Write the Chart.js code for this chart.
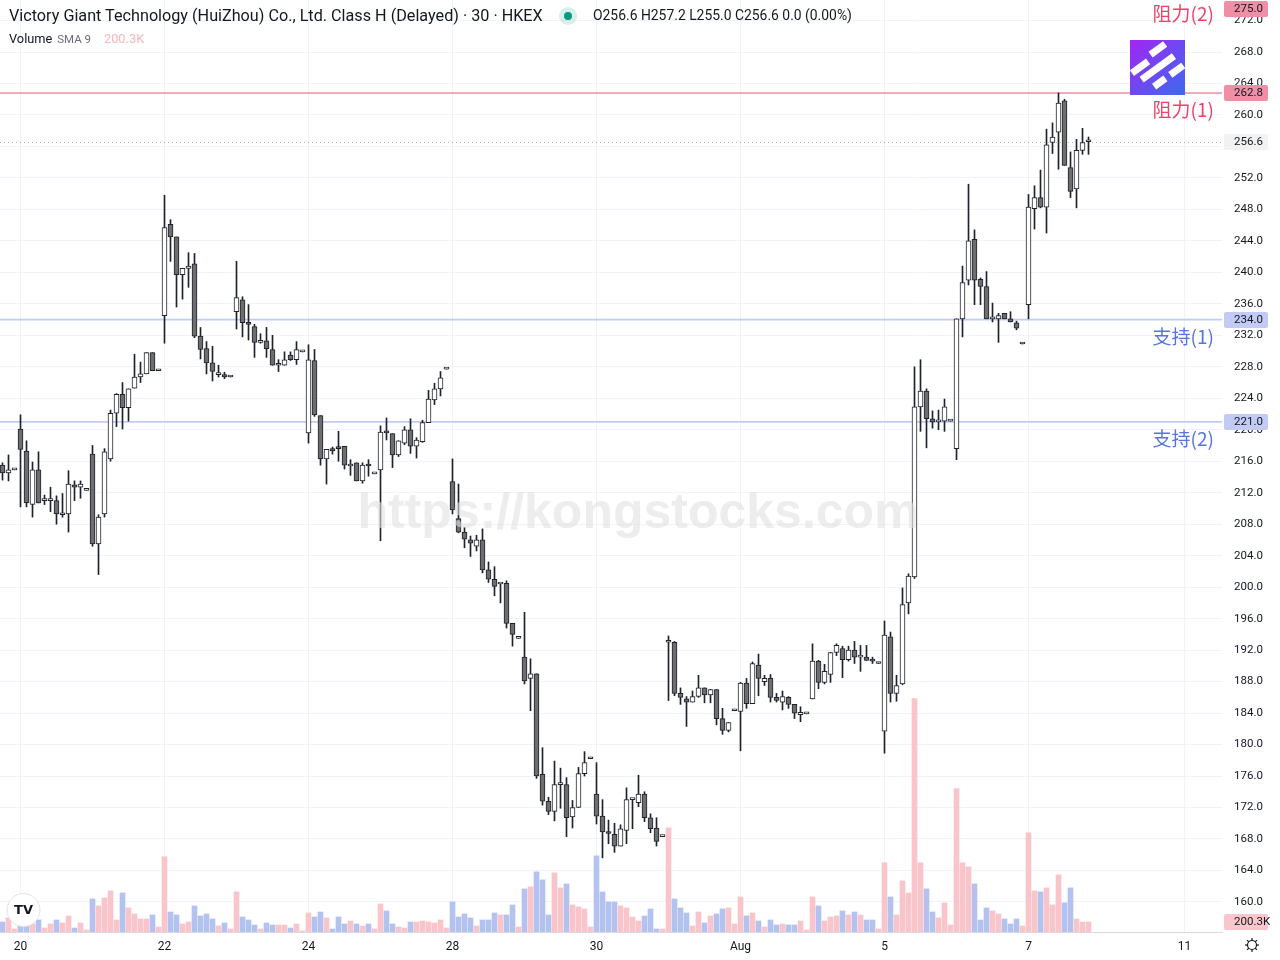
<!DOCTYPE html>
<html lang="en">
<head>
<meta charset="utf-8">
<title>Victory Giant Technology (HuiZhou) 30m</title>
<script src="https://cdn.jsdelivr.net/npm/chart.js@4.4.1/dist/chart.umd.min.js"></script>
<style>
  html, body { margin: 0; padding: 0; background: #fff; }
  body { position: relative; width: 1280px; height: 960px; overflow: hidden;
         font-family: Roboto, "Noto Sans", sans-serif; color: #131722; }
  #chart { position: absolute; left: 0; top: 0; }
  .legend { position: absolute; left: 9px; white-space: nowrap; }
  #title { top: 6px; font-size: 16.2px; }
  #dot { position: absolute; left: 559px; top: 7px; width: 18px; height: 18px; border-radius: 50%; background: rgba(8,153,129,0.15); }
  #dot::after { content: ''; position: absolute; left: 5px; top: 5px; width: 8px; height: 8px; border-radius: 50%; background: #089981; }
  #ohlc { position: absolute; left: 593px; top: 7px; font-size: 13.9px; white-space: nowrap; }
  #vol { top: 31px; font-size: 12.8px; }
  #vol .sma { color: #6a6d78; font-size: 11.5px; margin-left: 2px; }
  #vol .val { color: #f7b5bd; margin-left: 13px; }
  #watermark { position: absolute; left: 0; width: 1276px; top: 486px; text-align: center;
               font: bold 50px "Liberation Sans", Arial, sans-serif; line-height: 50px;
               color: rgba(225,225,225,0.6); pointer-events: none; }
</style>
</head>
<body>
<canvas id="chart" width="1280" height="960"></canvas>
<div id="title" class="legend">Victory Giant Technology (HuiZhou) Co., Ltd. Class H (Delayed) · 30 · HKEX</div>
<div id="dot"></div>
<div id="ohlc">O256.6 H257.2 L255.0 C256.6 0.0 (0.00%)</div>
<div id="vol" class="legend">Volume<span class="sma"> SMA 9</span><span class="val">200.3K</span></div>
<div id="watermark">https://kongstocks.com</div>
<script>
// 30 minute bars, last 3 bars of Jul 17 then Jul 20 .. Aug 7 (12 bars a day incl. closing auction)
const opens = [
  215.5, 214.5, 214.9, 220.1, 217.3, 210.5, 214.9, 211.0, 211.0, 211.0, 209.2, 209.3, 213.0, 212.7, 212.3,
  216.9, 205.5, 209.3, 216.3, 222.1, 224.5, 222.8, 225.3, 226.7, 227.1, 229.8, 227.5,
  234.5, 246.1, 244.5, 239.7, 240.5, 241.1, 231.9, 230.3, 228.5, 227.0, 227.0, 226.7,
  235.0, 236.5, 233.6, 233.1, 231.1, 231.3, 230.2, 228.2, 228.2, 229.5, 228.9, 229.9,
  219.6, 228.8, 221.8, 216.3, 217.6, 217.7, 217.9, 215.4, 215.8, 213.5, 215.6, 214.4,
  214.9, 219.7, 219.5, 216.8, 218.3, 220.0, 217.9, 218.5, 220.9, 223.8, 225.2, 227.7,
  213.4, 208.7, 207.0, 206.0, 205.2, 206.0, 202.2, 201.0, 200.4, 200.5, 195.4, 193.5,
  191.1, 188.4, 189.0, 176.2, 172.8, 171.5, 174.9, 174.9, 170.8, 172.0, 176.3, 178.2,
  173.7, 170.9, 168.8, 168.6, 167.1, 169.1, 173.0, 172.6, 173.7, 170.7, 169.4, 168.3,
  193.0, 193.0, 186.5, 185.8, 185.4, 186.1, 187.2, 186.3, 187.0, 183.3, 181.8, 184.3,
  184.2, 187.8, 185.2, 190.1, 188.0, 188.4, 186.0, 185.4, 186.0, 185.1, 183.8, 183.9,
  185.8, 190.6, 187.9, 188.9, 191.7, 192.2, 190.8, 192.0, 191.1, 191.1, 190.7, 190.3,
  181.7, 193.7, 186.5, 187.7, 198.0, 201.3, 222.9, 224.9, 221.4, 221.0, 221.1, 221.1,
  217.6, 234.1, 239.0, 244.2, 239.1, 238.2, 234.1, 234.1, 234.8, 234.1, 233.6, 230.9,
  235.9, 248.1, 249.5, 248.3, 256.5, 257.8, 261.8, 253.3, 250.6, 255.5, 256.6
];
const highs = [
  215.8, 216.8, 214.9, 221.9, 218.6, 215.9, 217.2, 211.7, 212.7, 211.6, 211.9, 214.8, 213.5, 213.5, 212.3,
  218.0, 209.2, 217.6, 222.5, 224.6, 226.0, 225.2, 229.6, 228.6, 229.8, 229.8, 227.5,
  249.8, 246.7, 244.5, 240.5, 242.5, 242.4, 233.0, 231.2, 230.6, 228.2, 227.3, 226.7,
  241.4, 236.9, 235.9, 233.4, 232.2, 233.0, 232.0, 228.9, 229.9, 229.9, 231.2, 229.9,
  230.8, 230.2, 221.8, 217.5, 217.8, 219.8, 217.9, 216.2, 215.8, 215.8, 216.2, 214.4,
  220.5, 221.5, 219.5, 218.6, 220.4, 221.4, 219.0, 221.2, 225.0, 225.9, 227.4, 227.7,
  216.3, 213.1, 207.6, 206.5, 206.6, 207.4, 203.2, 202.6, 200.4, 200.8, 195.4, 193.5,
  196.8, 190.9, 189.0, 179.6, 173.3, 177.9, 177.0, 175.8, 172.9, 177.1, 179.1, 178.2,
  177.7, 173.0, 170.4, 170.0, 169.8, 174.5, 173.1, 176.1, 174.0, 171.2, 170.7, 168.3,
  193.8, 193.1, 187.2, 186.1, 186.8, 188.8, 187.2, 187.0, 187.0, 184.6, 182.8, 184.3,
  187.9, 188.4, 190.5, 191.5, 188.8, 188.9, 186.5, 186.8, 186.1, 185.1, 184.8, 183.9,
  192.8, 190.7, 190.2, 191.7, 192.8, 192.5, 192.5, 193.1, 192.6, 192.6, 191.1, 190.3,
  195.7, 194.3, 188.8, 199.9, 201.7, 228.0, 228.9, 225.2, 222.4, 222.5, 223.9, 221.1,
  234.1, 240.8, 251.2, 245.4, 239.3, 240.1, 236.1, 234.8, 234.8, 235.0, 233.8, 230.9,
  249.9, 251.0, 253.0, 258.2, 259.0, 262.8, 262.0, 255.3, 256.9, 258.3, 257.2
];
const lows = [
  213.6, 213.5, 214.9, 210.2, 210.2, 208.9, 210.7, 210.5, 209.6, 208.0, 208.9, 207.0, 211.0, 211.3, 212.3,
  205.2, 201.6, 208.9, 216.0, 220.4, 220.1, 221.1, 225.3, 226.0, 227.1, 227.5, 227.5,
  231.0, 241.4, 235.6, 236.6, 238.1, 231.7, 229.0, 227.1, 226.2, 226.7, 226.5, 226.7,
  232.8, 231.8, 231.4, 229.2, 231.0, 229.2, 228.2, 227.4, 228.2, 228.8, 228.3, 229.9,
  218.3, 221.7, 215.5, 213.1, 216.9, 216.0, 215.0, 214.2, 213.5, 213.2, 214.1, 214.4,
  205.9, 218.7, 215.2, 216.6, 218.1, 217.0, 216.4, 218.4, 220.9, 223.2, 224.3, 227.7,
  209.3, 206.9, 205.0, 203.9, 204.6, 201.8, 200.6, 198.9, 198.0, 194.8, 192.5, 193.5,
  187.7, 184.3, 175.7, 172.3, 171.1, 170.3, 171.9, 168.3, 169.4, 172.0, 176.0, 178.2,
  169.9, 165.6, 167.4, 166.3, 167.1, 167.4, 169.3, 172.1, 170.2, 168.8, 167.1, 168.3,
  185.6, 186.2, 185.1, 182.3, 185.4, 186.0, 185.3, 185.3, 182.5, 181.3, 181.6, 184.3,
  179.2, 184.6, 185.2, 186.2, 187.5, 185.4, 185.4, 184.4, 184.6, 183.3, 182.9, 183.9,
  185.8, 187.1, 187.7, 187.9, 191.3, 188.5, 190.6, 190.3, 189.3, 190.7, 190.3, 190.3,
  178.9, 185.4, 185.5, 187.6, 196.6, 201.1, 219.8, 217.7, 220.2, 220.0, 219.8, 221.1,
  216.2, 231.8, 238.4, 235.9, 235.9, 234.1, 233.7, 231.1, 234.1, 233.7, 232.7, 230.9,
  234.1, 245.5, 248.2, 245.0, 255.1, 253.1, 253.6, 249.5, 248.2, 255.0, 255.0
];
const closes = [
  214.5, 214.9, 214.9, 217.5, 210.7, 214.9, 210.7, 211.0, 211.0, 209.3, 209.2, 213.1, 212.7, 213.1, 212.3,
  205.5, 208.9, 217.2, 222.1, 224.5, 222.8, 225.2, 226.7, 227.1, 229.8, 227.5, 227.5,
  245.7, 244.5, 239.7, 240.5, 240.8, 231.9, 230.2, 228.5, 227.4, 227.0, 226.7, 226.7,
  236.8, 233.6, 233.4, 231.1, 231.2, 230.3, 228.2, 228.4, 228.9, 228.9, 230.2, 229.9,
  228.9, 221.9, 216.3, 217.5, 217.3, 217.6, 215.5, 215.6, 213.5, 215.5, 215.4, 214.4,
  219.7, 219.6, 216.8, 218.6, 220.0, 217.9, 218.7, 220.9, 223.9, 225.2, 226.6, 227.7,
  209.8, 207.0, 206.1, 205.6, 206.0, 202.2, 201.0, 200.1, 200.4, 195.4, 194.0, 193.5,
  188.1, 189.0, 176.0, 172.8, 171.5, 174.9, 174.9, 170.7, 172.0, 176.3, 177.7, 178.2,
  170.9, 168.9, 168.7, 167.1, 169.3, 173.0, 173.0, 173.7, 170.7, 169.3, 167.7, 168.3,
  193.1, 186.5, 186.0, 185.4, 186.1, 187.2, 186.3, 187.0, 183.3, 181.8, 182.8, 184.3,
  187.8, 185.2, 190.3, 188.4, 188.4, 186.0, 185.6, 186.1, 185.1, 184.0, 184.1, 183.9,
  190.6, 187.9, 189.3, 191.7, 192.6, 190.8, 192.0, 191.1, 191.3, 190.7, 190.6, 190.3,
  193.9, 186.5, 187.5, 197.8, 201.4, 222.9, 224.9, 221.4, 221.0, 221.0, 222.9, 221.1,
  234.1, 238.7, 244.0, 239.0, 238.2, 234.1, 234.1, 234.5, 234.1, 233.7, 232.9, 230.9,
  248.3, 249.5, 248.3, 256.2, 257.2, 261.5, 253.6, 250.3, 255.5, 256.5, 256.6
];
// volume in thousands of shares
const volumes = [
  200, 280, 60, 300, 120, 160, 240, 80, 160, 240, 180, 320, 80, 180, 40,
  660, 520, 680, 820, 240, 780, 480, 360, 260, 260, 340, 100,
  1500, 400, 340, 160, 200, 520, 320, 360, 260, 120, 180, 60,
  800, 300, 240, 140, 60, 180, 140, 140, 140, 80, 160, 20,
  380, 300, 400, 280, 60, 300, 160, 220, 160, 120, 160, 60,
  560, 420, 160, 100, 80, 200, 200, 220, 200, 180, 240, 80,
  600, 300, 360, 280, 120, 240, 240, 380, 340, 340, 540, 100,
  860, 900, 1200, 1040, 340, 1180, 880, 960, 540, 500, 460, 100,
  1520, 800, 600, 600, 520, 480, 300, 220, 320, 460, 60, 60,
  2080, 660, 480, 380, 120, 400, 180, 320, 360, 460, 480, 160,
  700, 320, 380, 220, 100, 240, 140, 160, 140, 140, 220, 40,
  700, 520, 220, 300, 320, 420, 340, 400, 340, 240, 240, 60,
  1380, 700, 340, 1020, 780, 4660, 1380, 860, 400, 280, 580, 140,
  2860, 1380, 1300, 960, 240, 480, 420, 360, 260, 160, 260, 120,
  1980, 820, 800, 880, 540, 1140, 580, 880, 260, 200, 200
];
const volumeSma = 200.3;

// time axis: bar position of each label
const tickBars = [3, 27, 51, 75, 99, 123, 147, 171, 197];
const tickLabels = ['20', '22', '24', '28', '30', 'Aug', '5', '7', '11'];
const priceTicks = [160, 164, 168, 172, 176, 180, 184, 188, 192, 196, 200, 204, 208, 212, 216, 220,
                    224, 228, 232, 236, 240, 244, 248, 252, 256, 260, 264, 268, 272];

// drawn levels
const levelPrices = [275.0, 262.8, 234.0, 221.0];
const levelNames = ['阻力(2)', '阻力(1)', '支持(1)', '支持(2)'];

const RES_LINE = '#ef8ea4', RES_TEXT = '#ee4268';
const SUP_LINE = '#c2cbf4', SUP_TEXT = '#5574e2';
const INK = '#1e222d';

const isUp = i => closes[i] >= opens[i];
const bodyData = opens.map((o, i) => ({ x: i, y: [Math.min(o, closes[i]), Math.max(o, closes[i])] }));
const wickData = highs.map((h, i) => ({ x: i, y: [lows[i], h] }));
const volData = volumes.map((v, i) => ({ x: i, y: v }));

function tag(ctx, yMid, text, bg) {
  ctx.fillStyle = bg;
  ctx.beginPath();
  ctx.roundRect(1224, Math.round(yMid) - 8, 44, 16, 2);
  ctx.fill();
  ctx.fillStyle = '#131722';
  ctx.font = '11.5px Roboto';
  ctx.textAlign = 'left';
  ctx.textBaseline = 'middle';
  ctx.fillText(text, 1234, Math.round(yMid) + 0.5);
}

const overlay = {
  id: 'overlay',
  beforeDatasetsDraw(chart) {
    const { ctx, chartArea: a, scales: { y } } = chart;
    ctx.save();
    ctx.beginPath();
    ctx.rect(a.left, a.top, a.right - a.left, a.bottom - a.top);
    ctx.clip();
    // last price line
    const ly = Math.round(y.getPixelForValue(closes[closes.length - 1])) + 0.5;
    ctx.strokeStyle = '#b2b5be';
    ctx.lineWidth = 1;
    ctx.setLineDash([1, 3]);
    ctx.beginPath(); ctx.moveTo(a.left, ly); ctx.lineTo(a.right, ly); ctx.stroke();
    ctx.setLineDash([]);
    levelPrices.forEach((p, i) => {
      const py = y.getPixelForValue(p);
      ctx.strokeStyle = levelNames[i].startsWith('阻') ? RES_LINE : SUP_LINE;
      ctx.lineWidth = 1.6;
      ctx.beginPath(); ctx.moveTo(a.left, py); ctx.lineTo(a.right, py); ctx.stroke();
    });
    ctx.restore();
  },
  afterDraw(chart) {
    const { ctx, scales: { y, yv } } = chart;
    ctx.save();
    // level captions
    ctx.font = '19px "Noto Sans CJK SC"';
    ctx.textAlign = 'right';
    ctx.textBaseline = 'middle';
    levelPrices.forEach((p, i) => {
      const py = y.getPixelForValue(p);
      const res = levelNames[i].startsWith('阻');
      ctx.fillStyle = res ? RES_TEXT : SUP_TEXT;
      ctx.fillText(levelNames[i], 1214, py + 17);
    });
    // price scale tags
    levelPrices.forEach((p, i) => {
      const py = Math.max(y.getPixelForValue(p), 9);
      tag(ctx, py, p.toFixed(1), levelNames[i].startsWith('阻') ? RES_LINE : SUP_LINE);
    });
    const last = closes[closes.length - 1];
    tag(ctx, y.getPixelForValue(last), last.toFixed(1), '#f2f2f2');
    tag(ctx, yv.getPixelForValue(volumeSma), volumeSma.toFixed(1) + 'K', '#f9c6cb');

    // site logo
    const lx = 1130, ly = 40, ls = 55;
    const g = ctx.createLinearGradient(lx, ly, lx + ls, ly + ls);
    g.addColorStop(0, '#a424f4');
    g.addColorStop(1, '#3a6cf0');
    ctx.fillStyle = g;
    ctx.fillRect(lx, ly, ls, ls);
    ctx.fillStyle = '#ffffff';
    ctx.save();
    ctx.translate(lx + ls / 2, ly + ls / 2);
    ctx.rotate(-Math.PI / 5);
    ctx.fillRect(-24, -14, 20, 7);
    ctx.fillRect(2, -18, 18, 7);
    ctx.fillRect(-20, -3, 40, 7);
    ctx.fillRect(-14, 10, 14, 7);
    ctx.fillRect(6, 10, 16, 7);
    ctx.restore();

    // TV badge
    ctx.beginPath();
    ctx.arc(23.5, 910, 16.5, 0, Math.PI * 2);
    ctx.fillStyle = '#ffffff';
    ctx.fill();
    ctx.strokeStyle = '#e0e3eb';
    ctx.lineWidth = 1;
    ctx.stroke();
    ctx.fillStyle = '#131722';
    ctx.font = 'bold 13px "DejaVu Sans"';
    ctx.textAlign = 'center';
    ctx.textBaseline = 'middle';
    ctx.fillText('TV', 23.5, 910.5);

    // settings gear
    ctx.strokeStyle = '#131722';
    ctx.lineWidth = 1.2;
    ctx.beginPath();
    ctx.arc(1252, 945, 4.5, 0, Math.PI * 2);
    ctx.stroke();
    for (let k = 0; k < 8; k++) {
      const ang = k * Math.PI / 4;
      ctx.beginPath();
      ctx.moveTo(1252 + Math.cos(ang) * 4.5, 945 + Math.sin(ang) * 4.5);
      ctx.lineTo(1252 + Math.cos(ang) * 7, 945 + Math.sin(ang) * 7);
      ctx.stroke();
    }
    ctx.restore();
  }
};

new Chart(document.getElementById('chart'), {
  type: 'bar',
  data: {
    datasets: [
      {
        label: 'Body',
        data: bodyData,
        order: 1,
        grouped: false,
        barThickness: 5,
        minBarLength: 2,
        borderWidth: 1,
        borderSkipped: false,
        borderColor: INK,
        backgroundColor: c => isUp(c.dataIndex) ? '#ffffff' : '#6e6e6e',
        yAxisID: 'y'
      },
      {
        label: 'Wick',
        data: wickData,
        order: 2,
        grouped: false,
        barThickness: 1,
        minBarLength: 1,
        borderWidth: 0,
        backgroundColor: INK,
        yAxisID: 'y'
      },
      {
        label: 'Volume',
        data: volData,
        order: 3,
        grouped: false,
        barThickness: 5,
        borderWidth: 0,
        backgroundColor: c => isUp(c.dataIndex) ? '#f9c5cb' : '#b4c2f0',
        yAxisID: 'yv'
      }
    ]
  },
  options: {
    responsive: false,
    animation: false,
    devicePixelRatio: 1,
    events: [],
    layout: { padding: 0 },
    plugins: { legend: { display: false }, tooltip: { enabled: false } },
    scales: {
      x: {
        type: 'linear',
        min: -5 / 12,
        max: -5 / 12 + 1222 / 6,
        offset: false,
        grid: { color: '#f0f3fa', drawTicks: false, offset: false },
        border: { display: true, color: '#d6dae3' },
        afterBuildTicks: s => { s.ticks = tickBars.map(v => ({ value: v })); },
        afterFit: s => { s.height = 28; s.paddingLeft = 0; s.paddingRight = 0; },
        ticks: {
          autoSkip: false,
          maxRotation: 0,
          padding: 8,
          color: '#131722',
          font: { family: 'Roboto', size: 12 },
          callback: v => tickLabels[tickBars.indexOf(v)] ?? ''
        }
      },
      y: {
        position: 'right',
        min: 156.18,
        max: 274.61,
        grid: { color: '#f0f3fa', drawTicks: false },
        border: { display: false },
        afterBuildTicks: s => { s.ticks = priceTicks.map(v => ({ value: v })); },
        afterFit: s => { s.width = 58; s.paddingTop = 0; s.paddingBottom = 0; },
        ticks: {
          padding: 12,
          color: '#131722',
          font: { family: 'Roboto', size: 11.5 },
          callback: v => v.toFixed(1)
        }
      },
      yv: { display: false, min: 0, max: 18600 }
    }
  },
  plugins: [overlay]
});
</script>
</body>
</html>
